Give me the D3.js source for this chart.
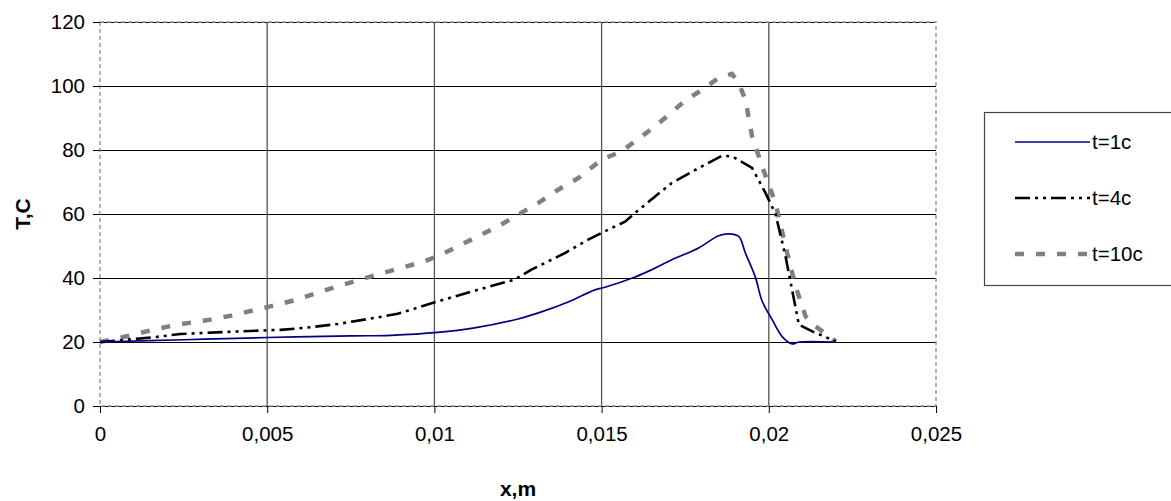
<!DOCTYPE html>
<html><head><meta charset="utf-8">
<script src="https://cdn.jsdelivr.net/npm/d3@7"></script>
<style>
html,body{margin:0;padding:0;background:#fff;}
svg{display:block;font-family:Arial,"Liberation Sans",sans-serif;}
</style></head>
<body><svg id="c" width="1171" height="501"></svg>
<script>
// ---- data ----
const seriesNames = ["t=1c", "t=4c", "t=10c"];
const x1 = [0, 0.0025, 0.005, 0.0075, 0.0087, 0.0101, 0.0112, 0.0125, 0.0132, 0.014, 0.0148, 0.0151, 0.016, 0.0165, 0.0171, 0.0179, 0.0185, 0.0188, 0.0191, 0.0193, 0.0196, 0.0198, 0.0201, 0.0204, 0.0207, 0.0209, 0.022];
const y1 = [20, 20.7, 21.4, 21.9, 22.1, 23.0, 24.4, 27.2, 29.4, 32.5, 36.3, 37.1, 40.3, 42.6, 45.7, 49.4, 53.2, 53.8, 53.0, 47.8, 40.2, 32.8, 27.0, 21.7, 19.4, 20, 20];
const x4 = [0, 0.001, 0.0017, 0.0024, 0.0041, 0.0054, 0.0061, 0.0071, 0.0082, 0.0089, 0.0102, 0.0114, 0.0124, 0.0129, 0.0135, 0.0139, 0.0146, 0.015, 0.0157, 0.016, 0.0166, 0.0171, 0.018, 0.0186, 0.0189, 0.0195, 0.0199, 0.0202, 0.0205, 0.0209, 0.0213, 0.022];
const y4 = [20, 20.9, 21.6, 22.5, 23.3, 23.8, 24.4, 25.6, 27.5, 28.8, 33.0, 36.6, 39.5, 42.6, 45.7, 47.8, 52.0, 54.1, 57.6, 60.3, 65.5, 69.7, 74.9, 78.2, 78.0, 74.4, 66.6, 60.0, 46.8, 25.4, 23.3, 20.2];
const x10 = [0, 0.0008, 0.0015, 0.0022, 0.0033, 0.0039, 0.005, 0.0058, 0.0071, 0.0082, 0.0097, 0.0102, 0.0107, 0.0119, 0.0125, 0.0131, 0.0137, 0.0143, 0.015, 0.0156, 0.0166, 0.0175, 0.018, 0.0185, 0.0189, 0.0191, 0.0193, 0.0195, 0.0198, 0.0202, 0.0205, 0.0208, 0.0211, 0.0214, 0.022];
const y10 = [20, 21.8, 23.6, 25.2, 27.0, 28.2, 30.9, 33.0, 37.4, 40.8, 45.2, 47.3, 49.9, 56.1, 59.8, 63.4, 67.6, 71.2, 77.0, 79.6, 87.4, 95.4, 98.8, 102.5, 103.8, 100.9, 95.7, 84.3, 74.9, 63.4, 49.9, 37.4, 28.0, 24.9, 20.2];
const xTicks = [0, 0.005, 0.01, 0.015, 0.02, 0.025];
const xTickLabels = ["0", "0,005", "0,01", "0,015", "0,02", "0,025"];
const yTicks = [0, 20, 40, 60, 80, 100, 120];
const xTitle = "x,m";
const yTitle = "T,C";

// ---- layout ----
const L = 100, R = 936, T = 22, B = 406;
const svg = d3.select("#c");
const x = d3.scaleLinear().domain([0, 0.025]).range([L, R]);
const y = d3.scaleLinear().domain([0, 120]).range([B, T]);
const FS = 20.5;

// horizontal grid
svg.append("g").selectAll("line").data(yTicks).join("line")
  .attr("x1", L).attr("x2", R).attr("y1", d => y(d)).attr("y2", d => y(d))
  .attr("stroke", "#000").attr("stroke-width", 1).attr("shape-rendering", "crispEdges");
// vertical grid
svg.append("g").selectAll("line").data(xTicks.slice(1, -1)).join("line")
  .attr("x1", d => x(d)).attr("x2", d => x(d)).attr("y1", T).attr("y2", B)
  .attr("stroke", "#555").attr("stroke-width", 1.3);

// plot border (dashed gray)
svg.append("rect").attr("x", L).attr("y", T).attr("width", R - L).attr("height", B - T)
  .attr("fill", "none").attr("stroke", "#999").attr("stroke-width", 1.5)
  .attr("stroke-dasharray", "4,3");

// axes
const gx = svg.append("g").attr("transform", `translate(0,${B})`)
  .call(d3.axisBottom(x).tickValues(xTicks).tickSize(7).tickPadding(10)
    .tickFormat((d, i) => xTickLabels[i]));
const gy = svg.append("g").attr("transform", `translate(${L},0)`)
  .call(d3.axisLeft(y).tickValues(yTicks).tickSize(7).tickPadding(8));
[gx, gy].forEach(g => {
  g.select(".domain").remove();
  g.selectAll(".tick line").attr("stroke", "#000");
  g.selectAll("text").attr("font-size", FS).attr("fill", "#000")
    .attr("font-family", "Arial, 'Liberation Sans', sans-serif");
});
gx.selectAll("text").attr("dy", "0.71em").attr("y", 20);

// lines
const mk = (xs, ys) => xs.map((v, i) => [v, ys[i]]);
const lineLin = d3.line().x(d => x(d[0])).y(d => y(d[1]));
const lineSm = d3.line().x(d => x(d[0])).y(d => y(d[1])).curve(d3.curveCatmullRom.alpha(0.5));

const styles = [
  {stroke: "#000080", width: 1.7, dash: null},
  {stroke: "#000", width: 2.6, dash: "15,5,3,5,3,5"},
  {stroke: "#808080", width: 4.5, dash: "9,12"}
];
svg.append("path").datum(mk(x10, y10)).attr("d", lineLin)
  .attr("fill", "none").attr("stroke", styles[2].stroke).attr("stroke-width", styles[2].width)
  .attr("stroke-dasharray", styles[2].dash);
svg.append("path").datum(mk(x4, y4)).attr("d", lineLin)
  .attr("fill", "none").attr("stroke", styles[1].stroke).attr("stroke-width", styles[1].width)
  .attr("stroke-dasharray", styles[1].dash);
svg.append("path").datum(mk(x1, y1)).attr("d", lineSm)
  .attr("fill", "none").attr("stroke", styles[0].stroke).attr("stroke-width", styles[0].width)
  .attr("stroke-linejoin", "round");

// axis titles
svg.append("text").attr("x", (L + R) / 2).attr("y", 496).attr("text-anchor", "middle")
  .attr("font-size", 21).attr("font-weight", "bold").text(xTitle);
svg.append("text").attr("transform", `translate(30,${(T + B) / 2}) rotate(-90)`)
  .attr("text-anchor", "middle").attr("font-size", 21).attr("font-weight", "bold").text(yTitle);

// legend
const lg = svg.append("g");
lg.append("rect").attr("x", 984.5).attr("y", 112.5).attr("width", 200).attr("height", 173)
  .attr("fill", "#fff").attr("stroke", "#444").attr("stroke-width", 1.2);
const ly = [142, 198, 254];
seriesNames.forEach((n, i) => {
  lg.append("line").attr("x1", 1015).attr("x2", 1090).attr("y1", ly[i]).attr("y2", ly[i])
    .attr("stroke", styles[i].stroke).attr("stroke-width", styles[i].width)
    .attr("stroke-dasharray", styles[i].dash);
  lg.append("text").attr("x", 1092).attr("y", ly[i]).attr("dy", "0.36em")
    .attr("font-size", FS).text(n);
});
</script></body></html>
